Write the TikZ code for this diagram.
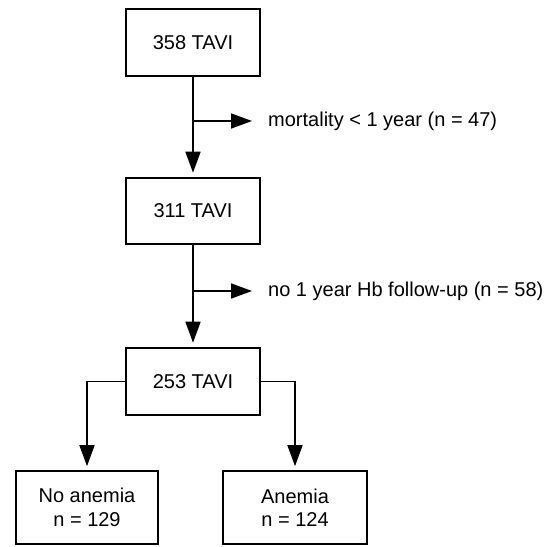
\documentclass[tikz,border=0pt]{standalone}
\usepackage{fontspec}
\setmainfont{Liberation Sans}
\usetikzlibrary{arrows.meta}

\begin{document}
\begin{tikzpicture}[x=1pt,y=-1pt,
	box/.style={draw=black,line width=1.6pt,inner sep=0pt,align=center,font=\fontsize{20}{23.5}\selectfont},
	lbl/.style={anchor=west,inner sep=0pt,font=\fontsize{20}{24}\selectfont},
	arr/.style={line width=1.6pt,-{Triangle[length=21pt,width=15pt]}}]
	\useasboundingbox (0,0) rectangle (548,546);
	
	\node[box,minimum width=134pt,minimum height=67pt] (tavi1) at (193,42.5) {358 TAVI};
	\node[box,minimum width=134pt,minimum height=66pt] (tavi2) at (193,211) {311 TAVI};
	\node[box,minimum width=134pt,minimum height=67pt] (tavi3) at (193,381.5) {253 TAVI};
	\node[box,minimum width=142pt,minimum height=73pt] (noanemia) at (87,507.5) {No anemia\\n = 129};
	\node[box,minimum width=144pt,minimum height=73pt] (anemia) at (295,507.5) {Anemia\\n = 124};
	
	\coordinate (split1) at (193,121);
	\coordinate (split2) at (193,291);
	\node[lbl] (mort) at (268,121) {mortality < 1 year (n = 47)};
	\node[lbl] (nohb) at (268,291) {no 1 year Hb follow-up (n = 58)};
	
	\draw[arr,shorten >=4.5pt] (tavi1) -- (tavi2);
	\draw[arr,shorten >=4.5pt] (tavi2) -- (tavi3);
	\draw[arr,shorten >=16pt] (split1) -- (mort.west);
	\draw[arr,shorten >=16pt] (split2) -- (nohb.west);
	\draw[arr,shorten >=4pt] (tavi3.west) -| (noanemia.north);
	\draw[arr,shorten >=4pt] (tavi3.east) -| (anemia.north);
\end{tikzpicture}
\end{document}
